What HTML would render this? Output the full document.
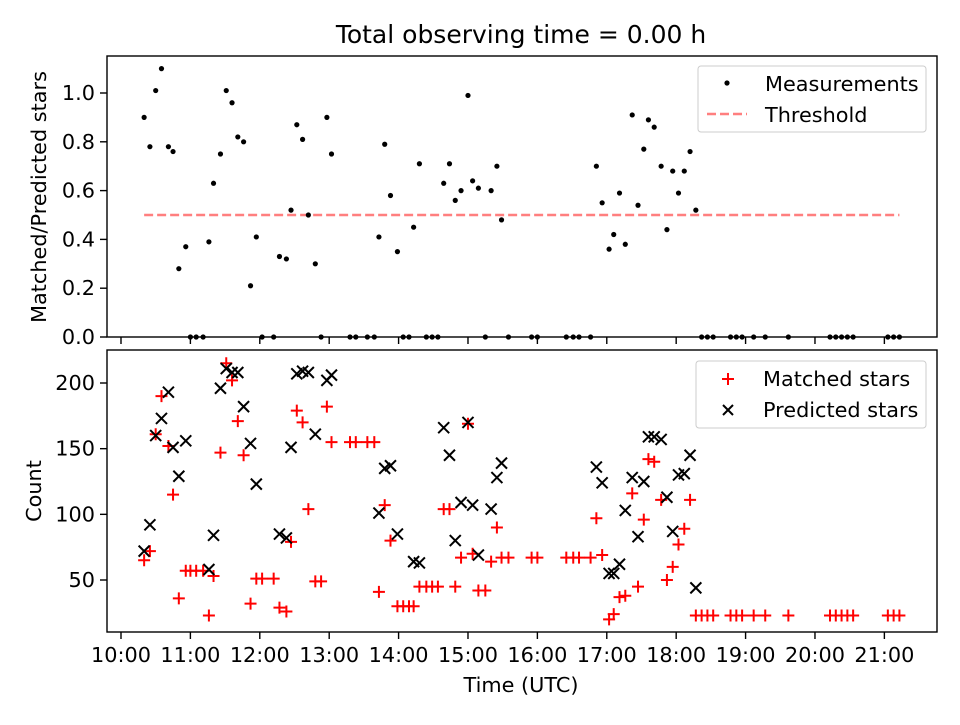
<!DOCTYPE html>
<html><head><meta charset="utf-8"><style>
body{margin:0;background:#fff}
svg{font-family:"DejaVu Sans","Liberation Sans",sans-serif}
</style></head><body>
<svg id="fig" width="960" height="720" xmlns="http://www.w3.org/2000/svg">
<rect width="960" height="720" fill="#fff"/>
<text x="521" y="43" font-size="25" text-anchor="middle">Total observing time = 0.00 h</text>
<g id="topPanel"></g>
<g id="botPanel"></g>
<text transform="translate(46,197) rotate(-90)" font-size="20.8" text-anchor="middle">Matched/Predicted stars</text>
<text transform="translate(41,491) rotate(-90)" font-size="20.8" text-anchor="middle">Count</text>
<text x="521" y="692" font-size="20.8" text-anchor="middle">Time (UTC)</text>
<g>
<rect x="698" y="66" width="228" height="66" rx="3" fill="#fff" stroke="#ccc"/>
<circle cx="727" cy="83" r="2.6" fill="#000"/>
<text x="765" y="91" font-size="20.8">Measurements</text>
<line x1="707" y1="114" x2="747" y2="114" stroke="#ff7f7f" stroke-width="2.5" stroke-dasharray="9,4"/>
<text x="765" y="122" font-size="20.8">Threshold</text>
</g>
<g>
<rect x="696" y="361" width="230" height="67" rx="3" fill="#fff" stroke="#ccc"/>
<path d="M722 379h12M728 373v12" stroke="#f00" stroke-width="2"/>
<text x="763" y="386" font-size="20.8">Matched stars</text>
<path d="M723 405l10 10M733 405l-10 10" stroke="#000" stroke-width="2"/>
<text x="763" y="417" font-size="20.8">Predicted stars</text>
</g>
</svg>
<script>
const times=[20,25,30,35,41,45,50,56,60,65,71,76,80,86,91,96,101,106,112,117,122,132,137,143,147,152,157,162,168,173,178,182,198,203,213,219,223,228,233,239,244,249,253,258,264,269,274,279,284,289,294,300,304,309,315,320,325,329,335,355,360,385,391,396,406,411,416,422,426,431,436,442,447,452,456,461,467,472,477,482,487,492,497,502,507,512,527,532,537,547,557,577,613,618,623,628,633,663,668,673];
const ratio=[0.90,0.78,1.01,1.10,0.78,0.76,0.28,0.37,0,0,0,0.39,0.63,0.75,1.01,0.96,0.82,0.80,0.21,0.41,0,0,0.33,0.32,0.52,0.87,0.81,0.50,0.30,0,0.90,0.75,0,0,0,0,0.41,0.79,0.58,0.35,0,0,0.45,0.71,0,0,0,0.63,0.71,0.56,0.60,0.99,0.64,0.61,0,0.60,0.70,0.48,0,0,0,0,0,0,0,0.70,0.55,0.36,0.42,0.59,0.38,0.91,0.54,0.77,0.89,0.86,0.70,0.44,0.68,0.59,0.68,0.76,0.52,0,0,0,0,0,0,0,0,0,0,0,0,0,0,0,0,0];
const matched=[65,72,161,190,152,115,36,57,57,57,57,23,53,147,215,202,171,145,32,51,51,51,29,26,79,179,170,104,49,49,182,155,155,155,155,155,41,107,80,30,30,30,30,45,45,45,45,104,104,45,67,169,70,42,42,64,90,67,67,67,67,67,67,67,67,97,69,20,24,37,38,116,45,96,142,140,111,50,60,77,89,111,23,23,23,23,23,23,23,23,23,23,23,23,23,23,23,23,23,23];
const predicted=[72,92,160,173,193,151,129,156,null,null,null,58,84,196,211,208,208,182,154,123,null,null,85,82,151,207,209,208,161,null,202,206,null,null,null,null,101,135,137,85,null,null,64,63,null,null,null,166,145,80,109,170,107,69,null,104,128,139,null,null,null,null,null,null,null,136,124,55,55,62,103,128,83,125,159,159,157,113,87,130,131,145,44,null,null,null,null,null,null,null,null,null,null,null,null,null,null,null,null,null];
const topTicks=[0,0.2,0.4,0.6,0.8,1.0];
const botTicks=[50,100,150,200];
const xTickLabels=["10:00","11:00","12:00","13:00","14:00","15:00","16:00","17:00","18:00","19:00","20:00","21:00"];
const threshold=0.5;

const NS="http://www.w3.org/2000/svg";
const AX_L=107,AX_R=937;
const xMin=-12.1, xMax=705.5; // minutes after 10:00
const X=m=>AX_L+(m-xMin)/(xMax-xMin)*(AX_R-AX_L);
const yT=v=>337-v*244;
const yB=v=>580-(v-50)*1.3133;
function mk(tag,attrs,parent){const e=document.createElementNS(NS,tag);for(const k in attrs)e.setAttribute(k,attrs[k]);parent.appendChild(e);return e;}
const topG=document.getElementById('topPanel'),botG=document.getElementById('botPanel');

const th=mk('line',{x1:X(times[0]),x2:X(times[times.length-1]),y1:yT(threshold),y2:yT(threshold),stroke:'#ff7f7f','stroke-width':2.5,'stroke-dasharray':'9,4'},topG);


times.forEach((t,i)=>{
  const c=mk('circle',{cx:X(t),cy:yT(ratio[i]),r:2.6,fill:'#000'},topG);
  
  
});
times.forEach((t,i)=>{
  const x=X(t),y=yB(matched[i]);
  const p=mk('path',{d:`M${x-6} ${y}h12M${x} ${y-6}v12`,stroke:'#f00','stroke-width':2},botG);
  
  
});
times.forEach((t,i)=>{
  if(predicted[i]==null)return;
  const x=X(t),y=yB(predicted[i]);
  const p=mk('path',{d:`M${x-5.5} ${y-5.5}l11 11M${x+5.5} ${y-5.5}l-11 11`,stroke:'#000','stroke-width':2},botG);
  
  
});
[[topG,56,337],[botG,350,632]].forEach(([g,t,b])=>{
  const r=mk('rect',{x:AX_L,y:t,width:AX_R-AX_L,height:b-t,fill:'none',stroke:'#000','stroke-width':1.4},g);
  
  
  xTickLabels.forEach((s,i)=>{
    const x=X(i*60);
    const tk=mk('line',{x1:x,x2:x,y1:b,y2:b+7,stroke:'#000','stroke-width':1.4},g);
    
    
    if(g===botG){
      const tx=mk('text',{x:x,y:b+30,'font-size':20.8,'text-anchor':'middle'},g);
      tx.textContent=s;
      
      
    }
  });
});
topTicks.forEach(v=>{
  const y=yT(v);
  const tk=mk('line',{x1:AX_L-7,x2:AX_L,y1:y,y2:y,stroke:'#000','stroke-width':1.4},topG);
  
  
  const tx=mk('text',{x:AX_L-12,y:y+7,'font-size':20.8,'text-anchor':'end'},topG);
  tx.textContent=v.toFixed(1);
  
  
});
botTicks.forEach(v=>{
  const y=yB(v);
  const tk=mk('line',{x1:AX_L-7,x2:AX_L,y1:y,y2:y,stroke:'#000','stroke-width':1.4},botG);
  
  
  const tx=mk('text',{x:AX_L-12,y:y+7,'font-size':20.8,'text-anchor':'end'},botG);
  tx.textContent=String(v);
  
  
});
</script>
</body></html>
